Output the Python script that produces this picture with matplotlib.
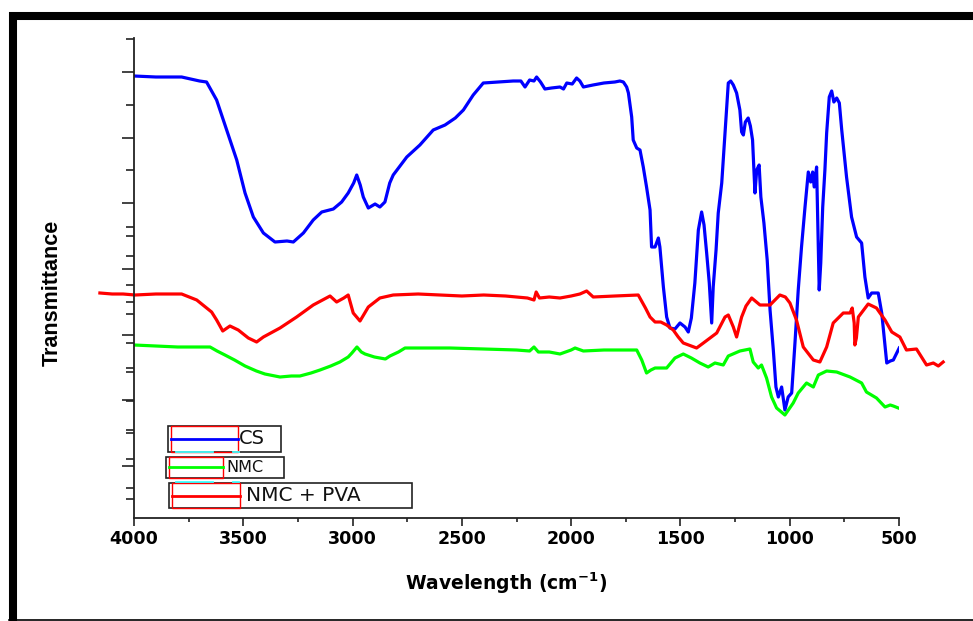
import matplotlib
matplotlib.use("Agg")
import matplotlib.pyplot as plt
from matplotlib.patches import Rectangle
from matplotlib.lines import Line2D

# FTIR spectra (wavenumber cm-1, transmittance a.u.)
cs_wn = [4000, 3900, 3782, 3700, 3668, 3622, 3576, 3530, 3492, 3454, 3408, 3355, 3300, 3271,
         3225, 3180, 3141, 3088, 3050, 3020, 2995, 2981, 2965, 2951, 2928, 2897, 2875, 2852,
         2830, 2814, 2752, 2692, 2631, 2577, 2530, 2493, 2448, 2402, 2330, 2265, 2230, 2211,
         2190, 2170, 2158, 2140, 2120, 2090, 2051, 2035, 2020, 1995, 1975, 1960, 1944, 1900,
         1850, 1800, 1777, 1761, 1746, 1738, 1723, 1716, 1700, 1685, 1670, 1655, 1639, 1632,
         1616, 1601, 1594, 1578, 1563, 1548, 1525, 1502, 1479, 1464, 1450, 1434, 1418, 1403,
         1392, 1380, 1368, 1357, 1350, 1337, 1327, 1311, 1296, 1281, 1270, 1258, 1243, 1228,
         1220, 1212, 1203, 1190, 1180, 1170, 1159, 1151, 1140, 1132, 1118, 1103, 1090, 1075,
         1063, 1052, 1037, 1022, 1007, 991, 976, 961, 946, 930, 915, 904, 895, 888, 877, 869,
         865, 858, 849, 839, 831, 819, 808, 798, 785, 773, 762, 740, 717, 694, 671, 656, 641,
         625, 595, 579, 556, 540, 526, 499]
cs_t = [442, 441, 441, 437, 436, 418, 388, 358, 325, 301, 285, 276, 277, 276,
        285, 298, 306, 309, 316, 325, 335, 343, 333, 321, 310, 314, 311, 316,
        335, 343, 361, 373, 388, 393, 400, 408, 423, 435, 436, 437, 437, 431,
        438, 437, 441, 436, 429, 430, 431, 429, 435, 434, 440, 437, 431, 433,
        435, 436, 437, 436, 431, 425, 401, 378, 370, 368, 351, 331, 308, 271,
        271, 280, 271, 231, 201, 190, 189, 195, 191, 186, 200, 235, 288, 306,
        293, 265, 235, 195, 231, 268, 305, 335, 385, 435, 437, 433, 425, 408,
        386, 383, 396, 400, 392, 378, 325, 348, 353, 321, 295, 258, 208, 168,
        131, 121, 131, 108, 121, 125, 175, 228, 271, 311, 346, 336, 346, 331, 351, 268,
        228, 255, 311, 348, 385, 421, 427, 416, 420, 415, 388, 341, 301, 281, 275, 241, 220,
        225, 225, 205, 155, 157, 158, 170]

nmc_wn = [4000, 3900, 3800, 3652, 3620, 3584, 3540, 3492, 3440, 3401, 3332, 3280, 3241, 3190,
          3149, 3100, 3058, 3020, 3003, 2980, 2960, 2943, 2900, 2875, 2850, 2829, 2790, 2760,
          2650, 2554, 2400, 2250, 2190, 2170, 2150, 2100, 2051, 2000, 1982, 1944, 1850, 1700,
          1677, 1655, 1635, 1616, 1563, 1525, 1487, 1450, 1411, 1373, 1342, 1304, 1281, 1228,
          1182, 1167, 1144, 1129, 1106, 1083, 1060, 1022, 984, 961, 923, 892, 869, 831, 785,
          724, 671, 649, 603, 564, 540, 526, 503]
nmc_t = [173, 172, 171, 171, 167, 163, 158, 152, 147, 144, 141, 142, 142, 145,
         148, 152, 156, 161, 165, 171, 166, 164, 161, 160, 159, 162, 166, 170,
         170, 170, 169, 168, 167, 171, 166, 166, 164, 168, 170, 167, 168, 168,
         158, 145, 148, 150, 150, 160, 164, 160, 155, 151, 155, 153, 162, 167,
         169, 156, 150, 153, 140, 121, 110, 103, 115, 125, 135, 131, 143, 147, 146,
         141, 135, 126, 120, 111, 113, 112, 110]

pva_wn = [4156, 4100, 4050, 3995, 3900, 3782, 3713, 3645, 3622, 3594, 3561, 3523, 3477, 3439,
          3408, 3332, 3256, 3180, 3103, 3073, 3040, 3020, 2997, 2966, 2928, 2875, 2814, 2700,
          2600, 2500, 2400, 2300, 2200, 2170, 2160, 2145, 2100, 2051, 2000, 1960, 1929, 1899,
          1800, 1693, 1660, 1639, 1616, 1590, 1563, 1533, 1510, 1487, 1426, 1395, 1334, 1296,
          1281, 1258, 1243, 1220, 1200, 1174, 1136, 1090, 1045, 1020, 999, 969, 938, 892, 862,
          831, 801, 755, 724, 714, 705, 702, 695, 686, 641, 603, 587, 564, 533, 496, 466, 420,
          374, 343, 320, 298]
pva_t = [225, 224, 224, 223, 224, 224, 218, 206, 198, 187, 192, 188, 180, 176,
         181, 190, 201, 213, 222, 216, 220, 223, 205, 197, 211, 220, 223, 224,
         223, 222, 223, 222, 220, 218, 226, 220, 221, 220, 222, 224, 227, 221,
         222, 223, 210, 201, 196, 196, 193, 188, 181, 175, 170, 175, 185, 201,
         203, 191, 181, 201, 212, 220, 213, 213, 223, 221, 215, 198, 171, 158, 156,
         171, 195, 205, 205, 210, 195, 173, 180, 201, 214, 210, 205, 198, 186, 181, 168, 169,
         153, 155, 152, 156]

x_ticks = [4000, 3500, 3000, 2500, 2000, 1500, 1000, 500]
x_minor = [3750, 3250, 2750, 2250, 1750, 1250, 750]
y_major = [52, 117.7, 183.4, 249.1, 314.8, 380.5, 446.2]
y_minor = [19, 85, 150, 216, 282, 348, 413, 479.5]
y_extra = [29.7, 58.7, 87.7, 116.7, 145.7, 174.7, 203.7, 232.7, 261.7, 290.7]

W, H = 973, 621
fig = plt.figure(figsize=(W / 100, H / 100), dpi=100)


def fx(x):
    return x / W


def fy(y):
    return 1 - y / H


ax = fig.add_axes([fx(134), fy(518), (899 - 134) / W, 480 / H])
ax.plot(cs_wn, cs_t, color="#0000ff", lw=2.3)
ax.plot(nmc_wn, nmc_t, color="#00ff00", lw=2.3)
ax.plot(pva_wn, pva_t, color="#ff0000", lw=2.3, clip_on=False)

ax.set_xlim(4000, 500)
ax.set_ylim(0, 480)
for s in ["top", "right"]:
    ax.spines[s].set_visible(False)
for s in ["left", "bottom"]:
    ax.spines[s].set_color("#222222")
    ax.spines[s].set_linewidth(1.3)

ax.set_xticks(x_ticks)
ax.set_xticks(x_minor, minor=True)
ax.set_yticks(y_major)
ax.set_yticks(y_minor, minor=True)
ax.set_yticklabels([])
ax.tick_params(axis="x", which="major", direction="out", length=5.5, width=1.2,
               color="#222222", pad=3)
ax.tick_params(axis="x", which="minor", direction="out", length=3, width=1.2, color="#222222")
ax.tick_params(axis="y", which="major", direction="out", length=8.5, width=1.2, color="#222222")
ax.tick_params(axis="y", which="minor", direction="out", length=5.5, width=1.2, color="#222222")
for lab in ax.get_xticklabels():
    lab.set_fontfamily("DejaVu Sans")
    lab.set_fontweight("bold")
    lab.set_fontsize(12.6)

sec = ax.secondary_yaxis("left")
sec.spines["left"].set_visible(False)
sec.set_yticks(y_extra)
sec.set_yticklabels([])
sec.tick_params(axis="y", direction="out", length=6, width=1.2, color="#222222")

plt.rcParams["mathtext.fontset"] = "dejavusans"
plt.rcParams["mathtext.default"] = "bf"
fig.text(fx(506), fy(590), "Wavelength (cm$^{-1}$)", ha="center", va="baseline",
         fontsize=13.5, fontweight="bold", family="DejaVu Sans")
fig.text(fx(63), fy(293), "Transmittance", rotation=90, ha="right", va="center",
         fontsize=15.5, fontweight="bold", family="Liberation Sans")

# legend drawn as three separate Origin-style boxes
boxes = [
    ((167.7, 425.7, 281, 451.7), (171, 238), "#0000ff", "CS", 239, 14),
    ((166.3, 456.7, 284.3, 477.7), (169, 223.3), "#00ff00", "NMC", 226, 11.5),
    ((169.3, 482.7, 412.3, 508.3), (172, 240), "#ff0000", "NMC + PVA", 246, 14.5),
]
for (x0, y0, x1, y1), (lx0, lx1), col, name, tx, fs in boxes:
    fig.add_artist(Rectangle((fx(x0), fy(y1)), (x1 - x0) / W, (y1 - y0) / H,
                             transform=fig.transFigure, facecolor="white",
                             edgecolor="#222222", lw=1.2))
    fig.add_artist(Rectangle((fx(lx0), fy(y1)), (lx1 - lx0) / W, (y1 - y0) / H,
                             transform=fig.transFigure, facecolor="none",
                             edgecolor="#ff0000", lw=1.0))
    ym = (y0 + y1) / 2
    fig.add_artist(Line2D([fx(lx0), fx(lx1)], [fy(ym), fy(ym)], transform=fig.transFigure,
                          color=col, lw=2.0))
    fig.text(fx(tx), fy(ym), name, ha="left", va="center", fontsize=fs,
             family="DejaVu Sans", color="#111111")
for yc in (451.7, 481.7):
    for a, b in ((176, 213), (233, 238.5)):
        fig.add_artist(Line2D([fx(a), fx(b)], [fy(yc), fy(yc)], transform=fig.transFigure,
                              color="#40ffff", lw=1.3))

# outer frame: thick top and left, thin bottom
fig.add_artist(Line2D([fx(9), fx(973)], [fy(16), fy(16)], transform=fig.transFigure,
                      color="black", lw=5.8, solid_capstyle="butt"))
fig.add_artist(Line2D([fx(13), fx(13)], [fy(12), fy(621)], transform=fig.transFigure,
                      color="black", lw=5.8, solid_capstyle="butt"))
fig.add_artist(Line2D([fx(9), fx(973)], [fy(619.5), fy(619.5)], transform=fig.transFigure,
                      color="black", lw=1.2))

fig.savefig("out.png", dpi=100)
